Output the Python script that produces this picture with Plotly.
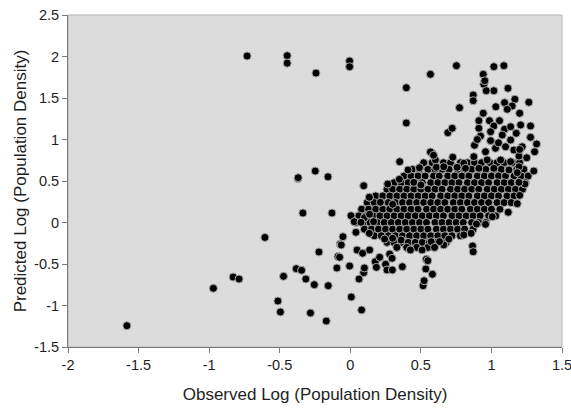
import plotly.graph_objects as go

# ---- data ----
# scattered points outside the dense cluster (observed, predicted)
outlier_obs = [-1.583, -0.97, -0.83, -0.788, -0.731, -0.605, -0.513, -0.495, -0.473, -0.447, -0.447,
               -0.383, -0.371, -0.369, -0.345, -0.336, -0.315, -0.282, -0.255, -0.248, -0.243, -0.222,
               -0.17, -0.158, -0.156, -0.13, -0.095, -0.087, -0.076, -0.071, -0.064, -0.052, -0.005,
               -0.005, -0.005, 0.007, 0.062, 0.08, 0.095, 0.095, 0.1, 0.135, 0.177, 0.185, 0.208,
               0.25, 0.26, 0.279, 0.296, 0.298, 0.35, 0.369, 0.397, 0.397, 0.409, 0.49, 0.516, 0.523,
               0.535, 0.539, 0.549, 0.568, 0.568, 0.582, 0.59, 0.752, 0.866, 0.871]
outlier_pred = [-1.243, -0.793, -0.657, -0.681, 2.006, -0.18, -0.946, -1.078, -0.649, 2.01, 1.92,
                -0.556, 0.53, 0.54, -0.576, 0.114, -0.681, -1.09, -0.749, 0.62, 1.80, -0.355,
                -1.187, 0.55, -0.761, 0.114, -0.548, -0.41, -0.419, -0.259, -0.271, -0.171, 1.946,
                1.877, -0.524, -0.898, -0.681, -1.054, -0.604, 0.443, -0.548, 0.304, -0.472, -0.54, -0.419,
                -0.504, -0.572, -0.38, -0.432, -0.572, 0.733, -0.532, 1.624, 1.199, 0.633, 0.66, -0.761, -0.701,
                -0.56, -0.443, -0.46, 1.785, 0.85, -0.624, 0.81, 1.89, -0.283, -0.352]

# upper-right sparse region of the cloud
upper_obs = [1.017, 1.088, 0.942, 0.946, 0.953, 1.017, 0.963, 1.117, 0.871, 0.871, 0.774, 1.166,
             1.265, 1.093, 1.147, 1.112, 1.031, 1.2, 0.942, 0.911, 0.986, 1.057, 0.691, 0.722,
             0.911, 1.017, 1.093, 1.136, 1.207, 1.277, 0.923, 0.994, 1.077, 1.176, 1.277, 0.994,
             1.136, 1.218, 1.32, 1.306, 0.958, 1.029, 1.1, 1.159, 1.195, 0.875, 0.97, 1.065, 1.136,
             0.804, 0.726, 0.58, 0.603, 0.61, 0.662, 0.757, 0.816, 0.911, 1.017, 1.124, 1.195,
             0.88, 1.05, 1.2, 0.9, 1.25, 1.3, 0.45, 0.5, 0.265, 0.348, 0.213, 0.3, 0.135, 0.005, 0.1,
             0.137, 0.028, 0.076, 0.165, 0.04, 0.135, 0.048, 0.137, 0.087, 0.243, 0.3, 0.36, 0.426,
             0.509, 0.573, 1.119, 1.183, 1.2, 1.237, 1.195, 1.183, 1.006, 0.958, 0.894, 0.856, 0.804,
             0.698, 0.662, 0.632, 0.597]
upper_pred = [1.878, 1.89, 1.785, 1.665, 1.708, 1.588, 1.588, 1.617, 1.536, 1.468, 1.383, 1.484,
              1.448, 1.444, 1.404, 1.364, 1.395, 1.316, 1.316, 1.227, 1.227, 1.227, 1.082, 1.135,
              1.135, 1.163, 1.123, 1.154, 1.175, 1.163, 1.042, 1.094, 1.054, 1.075, 1.026, 0.986,
              0.994, 0.913, 0.946, 0.853, 0.853, 0.894, 0.913, 0.873, 0.8, 0.793, 0.753, 0.753, 0.733,
              0.713, 0.786, 0.834, 0.753, 0.665, 0.672, 0.665, 0.653, 0.653, 0.653, 0.633, 0.672,
              0.93, 0.96, 0.88, 1.0, 0.78, 0.62, 0.484, 0.452, 0.464, 0.52, 0.243, 0.219, 0.304, 0.082, 0.058,
              0.099, 0.01, 0.002, 0.01, -0.118, -0.13, -0.331, -0.331, -0.371, -0.199, -0.19, -0.211, -0.331,
              -0.331, -0.231, 0.123, 0.227, 0.327, 0.464, 0.484, 0.6, 0.07, -0.022, -0.018, -0.13, -0.15,
              -0.2, -0.27, -0.23, -0.3]

# dense core of the cloud, read row by row (predicted level -> observed values)
core_levels = [0.72, 0.64, 0.56, 0.48, 0.40, 0.32, 0.24, 0.16, 0.08, 0.0, -0.08, -0.16, -0.24, -0.30]
core_obs_rows = [
    [0.52, 0.58, 0.66, 0.71, 0.78, 0.83, 0.88, 0.93, 0.99, 1.04, 1.09, 1.15, 1.2],
    [0.44, 0.49, 0.55, 0.6, 0.65, 0.7, 0.76, 0.81, 0.86, 0.91, 0.96, 1.02, 1.07, 1.12, 1.18, 1.23],
    [0.38, 0.43, 0.48, 0.53, 0.59, 0.63, 0.69, 0.74, 0.79, 0.84, 0.9, 0.95, 1.0, 1.05, 1.1, 1.16, 1.21, 1.26],
    [0.31, 0.36, 0.41, 0.46, 0.51, 0.57, 0.62, 0.67, 0.72, 0.77, 0.83, 0.88, 0.93, 0.98, 1.04, 1.09, 1.14, 1.19, 1.24],
    [0.26, 0.3, 0.35, 0.4, 0.45, 0.5, 0.55, 0.6, 0.65, 0.71, 0.76, 0.81, 0.86, 0.91, 0.97, 1.02, 1.07, 1.12, 1.17, 1.22],
    [0.18, 0.23, 0.28, 0.33, 0.38, 0.43, 0.48, 0.53, 0.58, 0.64, 0.69, 0.74, 0.79, 0.84, 0.9, 0.95, 1.0, 1.05, 1.11, 1.16],
    [0.12, 0.17, 0.22, 0.27, 0.32, 0.37, 0.42, 0.47, 0.52, 0.57, 0.62, 0.67, 0.73, 0.78, 0.83, 0.88, 0.93, 0.98, 1.04, 1.09, 1.14],
    [0.08, 0.13, 0.18, 0.23, 0.28, 0.33, 0.38, 0.43, 0.48, 0.54, 0.59, 0.64, 0.69, 0.74, 0.79, 0.85, 0.9, 0.95, 1.0, 1.06],
    [0.06, 0.11, 0.16, 0.21, 0.26, 0.31, 0.36, 0.41, 0.46, 0.51, 0.56, 0.61, 0.66, 0.72, 0.77, 0.82, 0.87, 0.92, 0.98, 1.03],
    [0.04, 0.09, 0.14, 0.19, 0.24, 0.29, 0.34, 0.39, 0.44, 0.49, 0.54, 0.6, 0.65, 0.7, 0.75, 0.8, 0.86, 0.91, 0.96],
    [0.1, 0.15, 0.2, 0.25, 0.3, 0.35, 0.4, 0.45, 0.5, 0.55, 0.61, 0.66, 0.71, 0.76, 0.81, 0.87],
    [0.17, 0.22, 0.27, 0.32, 0.37, 0.42, 0.47, 0.52, 0.57, 0.62, 0.67, 0.72, 0.78],
    [0.26, 0.31, 0.36, 0.41, 0.46, 0.51, 0.56, 0.61, 0.68],
    [0.33, 0.4, 0.47, 0.55],
]

x_ticks = [-2, -1.5, -1, -0.5, 0, 0.5, 1, 1.5]
x_tick_labels = ["-2", "-1.5", "-1", "-0.5", "0", "0.5", "1", "1.5"]
y_ticks = [-1.5, -1, -0.5, 0, 0.5, 1, 1.5, 2, 2.5]
y_tick_labels = ["-1.5", "-1", "-0.5", "0", "0.5", "1", "1.5", "2", "2.5"]

# ---- assemble ----
core_obs, core_pred = [], []
for lvl, row in zip(core_levels, core_obs_rows):
    core_obs.extend(row)
    core_pred.extend([lvl] * len(row))

obs = core_obs + upper_obs + outlier_obs
pred = core_pred + upper_pred + outlier_pred

FONT = "Liberation Sans, Arial, sans-serif"

fig = go.Figure(go.Scatter(
    x=obs, y=pred, mode="markers",
    marker=dict(size=8, color="#000000", line=dict(width=1, color="#a8a8a8")),
    hoverinfo="skip",
))

fig.update_layout(
    width=571, height=409,
    margin=dict(l=68, r=9, t=15, b=62),
    paper_bgcolor="white",
    plot_bgcolor="#dcdcdc",
    showlegend=False,
    font=dict(family=FONT, color="#1e1e1e"),
    shapes=[dict(type="rect", xref="paper", yref="paper", x0=0, y0=0, x1=1, y1=1,
                 line=dict(color="#b4b4b4", width=1), layer="below")],
)
fig.update_xaxes(
    range=[-2, 1.5], tickvals=x_ticks, ticktext=x_tick_labels, automargin=False,
    ticklabeloverflow="allow",
    showgrid=False, zeroline=False, showline=True, linecolor="#7a7a7a", linewidth=1,
    ticks="outside", ticklen=5, tickcolor="#7a7a7a",
    tickfont=dict(size=14.5, family=FONT, color="#1e1e1e"),
    title=dict(text="Observed Log (Population Density)", font=dict(size=17, family=FONT)),
)
fig.update_yaxes(
    range=[-1.5, 2.5], tickvals=y_ticks, ticktext=y_tick_labels, automargin=False,
    ticklabeloverflow="allow",
    showgrid=False, zeroline=False, showline=True, linecolor="#7a7a7a", linewidth=1,
    ticks="outside", ticklen=5, tickcolor="#7a7a7a",
    tickfont=dict(size=14.5, family=FONT, color="#1e1e1e"),
    title=dict(text="Predicted Log (Population Density)", font=dict(size=17, family=FONT), standoff=3),
)

fig.write_html(
    "out.html",
    config={"displayModeBar": False, "staticPlot": True},
    post_script="document.body.style.margin='0';document.body.style.overflow='hidden';",
)
